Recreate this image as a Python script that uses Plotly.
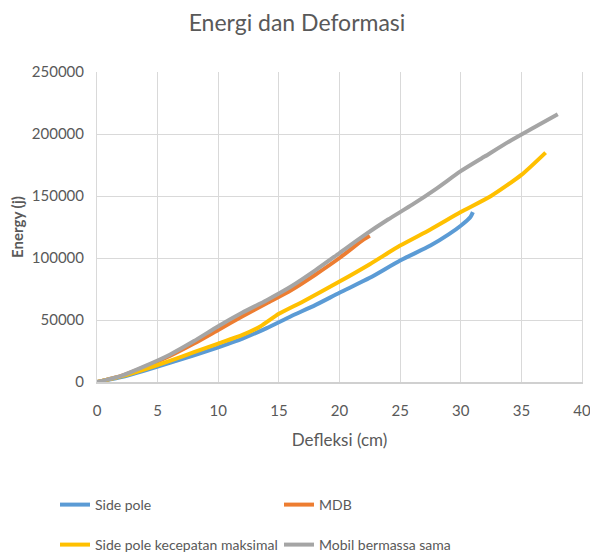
import plotly.graph_objects as go

# Data
side_pole_x = [0, 2, 4, 6, 8, 10, 12, 14, 16, 18, 20, 22.5, 25, 27.5, 29, 30, 30.8, 31]
side_pole_y = [0, 4000, 9500, 15500, 21500, 28000, 35000, 43500, 53000, 62000, 72000, 84000, 98000, 110000, 119000, 126000, 133000, 137000]

mdb_x = [0, 2, 4, 6, 8, 10, 12, 14, 16, 18, 20, 22, 22.5]
mdb_y = [0, 5000, 12500, 21000, 31000, 42000, 53000, 63500, 74000, 86500, 100000, 115000, 118000]

spmax_x = [0, 2, 4, 6, 8, 10, 12, 13.5, 15, 17, 20, 22.5, 25, 27.5, 30, 32.5, 35, 37]
spmax_y = [0, 4500, 10500, 17000, 24000, 31000, 38000, 45000, 55000, 65000, 81000, 95000, 110000, 123000, 137000, 150000, 167000, 185000]

mobil_x = [0, 2, 4, 6, 8, 10, 12, 14, 16, 18, 20, 22, 24, 26, 28, 30, 32, 34, 36, 38]
mobil_y = [0, 5000, 13000, 22000, 33000, 45000, 56000, 66000, 77000, 90000, 104000, 118000, 131000, 143000, 156000, 170000, 182000, 194000, 205000, 216000]

x_ticks = [0, 5, 10, 15, 20, 25, 30, 35, 40]
y_ticks = [0, 50000, 100000, 150000, 200000, 250000]

names = ["Side pole", "MDB", "Side pole kecepatan maksimal", "Mobil bermassa sama"]
colors = ["#5B9BD5", "#ED7D31", "#FFC000", "#A5A5A5"]
series = [(side_pole_x, side_pole_y), (mdb_x, mdb_y), (spmax_x, spmax_y), (mobil_x, mobil_y)]
legends = ["legend", "legend", "legend2", "legend2"]

FONT = "Lato"
TXT = "#595959"
W, H = 590, 553
L, R, T, B = 97, 8, 72, 171
PW, PH = W - L - R, H - T - B

fig = go.Figure()
for (xs, ys), n, c, lg in zip(series, names, colors, legends):
    fig.add_trace(go.Scatter(x=xs, y=ys, mode="lines", name=n, legend=lg,
                             line=dict(color=c, width=4, shape="spline", smoothing=0.6)))

legend_common = dict(orientation="h", entrywidth=179, entrywidthmode="pixels",
                     font=dict(family=FONT, size=14, color=TXT), bgcolor="rgba(0,0,0,0)",
                     xanchor="left", yanchor="middle", itemwidth=30, tracegroupgap=0)

def px_to_paper_x(px):
    return (px - L) / PW

def py_to_paper_y(py):
    return (H - B - py) / PH

fig.update_layout(
    width=W, height=H,
    margin=dict(l=L, r=R, t=T, b=B, autoexpand=False),
    paper_bgcolor="white", plot_bgcolor="white",
    title=dict(text="Energi dan Deformasi", x=297 / W, xanchor="center", y=1 - 23 / H, yanchor="middle",
               font=dict(family=FONT, size=23, color=TXT)),
    xaxis=dict(range=[0, 40], tickvals=x_ticks, showgrid=True, gridcolor="#D9D9D9", gridwidth=1,
               zeroline=False, showline=True, linecolor="#D0D0D0", linewidth=1.5, mirror=False,
               ticks="", ticklabelstandoff=14, automargin=False, ticklabeloverflow="allow",
               tickfont=dict(family=FONT, size=15, color=TXT),
               title=dict(text="Defleksi (cm)", font=dict(family=FONT, size=17, color=TXT), standoff=16)),
    yaxis=dict(range=[0, 250000], tickvals=y_ticks, showgrid=True, gridcolor="#D9D9D9", gridwidth=1,
               zeroline=False, showline=True, linecolor="#D9D9D9", linewidth=1, mirror=True,
               ticks="", ticklabelstandoff=9, tickformat="d", automargin=False,
               tickfont=dict(family=FONT, size=15, color=TXT),
               title=dict(text="<b>Energy (j)</b>", font=dict(family=FONT, size=15, color=TXT), standoff=4)),
    legend=dict(x=px_to_paper_x(55), y=py_to_paper_y(505), **legend_common),
    legend2=dict(x=px_to_paper_x(55), y=py_to_paper_y(545), **legend_common),
    showlegend=True,
)

fig.write_html(
    "out.html",
    config={"displayModeBar": False},
    post_script="document.body.style.margin='0';document.body.style.overflow='hidden';",
)
